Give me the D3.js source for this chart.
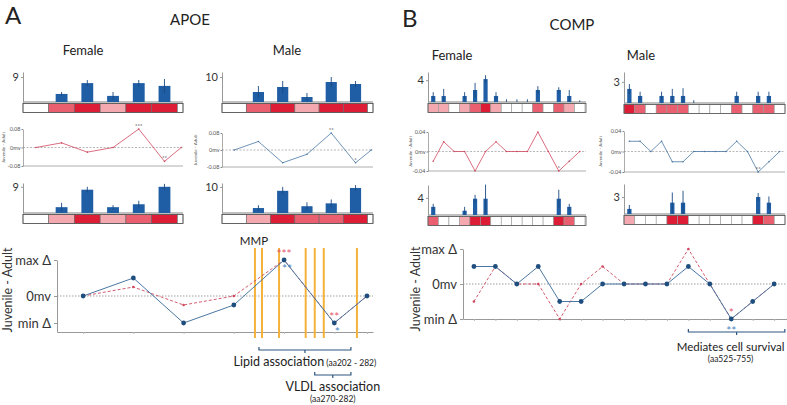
<!DOCTYPE html>
<html>
<head>
<meta charset="utf-8">
<script src="https://cdn.jsdelivr.net/npm/d3@7"></script>
<style>
  body { margin: 0; background: #fff; }
  svg { display: block; font-family: Lato, "Open Sans", sans-serif; }
</style>
</head>
<body>
<svg id="chart" width="787" height="405"></svg>
<script>
// ---------- APOE (7 segments, the last one is a short tail) ----------
const apoePos = [0, 1, 2, 3, 4, 5, 5.65];
const apoeFemTop = [0, 2.9, 6.8, 2.2, 6.8, 5.8, 0];
const apoeFemTopErr = [0, 0.7, 1.1, 1.4, 1.1, 2.5, 0];
const apoeFemTopHeat = [0, 2, 3, 1, 3, 3, 0];
const apoeFemBot = [0, 2, 8, 2, 3, 9, 0];
const apoeFemBotErr = [0, 1.5, 1, 0.7, 1.2, 1, 0];
const apoeFemBotHeat = [0, 1, 3, 1, 2, 3, 0];
const apoeMaleTop = [0, 4, 6, 2, 8, 7.2, 0];
const apoeMaleTopErr = [0, 2.4, 2.4, 1.6, 2, 1.2, 0];
const apoeMaleTopHeat = [0, 2, 3, 1, 3, 3, 0];
const apoeMaleBot = [0, 1.9, 8.5, 2.6, 3.7, 9.6, 0];
const apoeMaleBotErr = [0, 1.1, 1.5, 1.5, 1.5, 1.1, 0];
const apoeMaleBotHeat = [0, 1, 3, 2, 2, 3, 0];
const apoeFemDiff = [0, 0.02, -0.02, 0, 0.08, -0.06, 0];
const apoeMaleDiff = [0, 0.04, -0.06, -0.02, 0.08, -0.06, 0];
const apoeFemStars = ['', '', '', '', '***', '**', ''];
const apoeMaleStars = ['', '', '', '', '**', '*', ''];
const mmpSites = [3.42, 3.56, 3.9, 4.43, 4.61, 4.79, 5.45];

// ---------- COMP (15 segments) ----------
const compPos = d3.range(15);
const compFemTop = [1.1, 1.1, 0, 1.1, 2.2, 4.2, 1.1, 0, 0, 0, 2.2, 0, 2.2, 1.1, 0];
const compFemTopErr = [0.7, 1.3, 0, 0.7, 1.3, 0.7, 0.7, 0.5, 0.5, 0.5, 0.7, 0, 0.5, 1.1, 0.3];
const compFemTopHeat = [1, 1, 0, 1, 2, 3, 1, 0, 0, 0, 2, 0, 2, 1, 0];
const compFemBot = [1.9, 0, 0, 1, 3.8, 3.8, 0, 0, 0, 0, 0, 0, 3.8, 1.9, 0];
const compFemBotErr = [0.7, 0, 0, 0.9, 0.9, 3.3, 0, 0, 0, 0, 0, 0, 2.1, 0.7, 0];
const compFemBotHeat = [2, 0, 0, 1, 3, 3, 0, 0, 0, 0, 0, 0, 3, 2, 0];
const compMaleTop = [2, 1, 0, 1, 1, 1, 0, 0, 0, 0, 1, 0, 1, 1, 0];
const compMaleTopErr = [0.7, 0.6, 0, 0.6, 1, 1.1, 0.4, 0, 0, 0, 0.6, 0, 0.6, 0.6, 0];
const compMaleTopHeat = [3, 2, 0, 2, 2, 2, 0, 0, 0, 0, 2, 0, 2, 2, 0];
const compMaleBot = [0.9, 0, 0, 0, 2, 2, 0, 0, 0, 0, 0, 0, 3, 2, 0];
const compMaleBotErr = [0.7, 0, 0, 0, 1.8, 2.1, 0, 0, 0, 0, 0, 0, 0.7, 1.1, 0];
const compMaleBotHeat = [1, 0, 0, 0, 3, 3, 0, 0, 0, 0, 0, 0, 3, 2, 0];
const compFemDiff = [-0.02, 0.02, 0, 0, -0.04, 0, 0.02, 0, 0, 0, 0.04, 0, -0.04, -0.02, 0];
const compMaleDiff = [0.02, 0.02, 0, 0.02, -0.02, -0.02, 0, 0, 0, 0, 0.02, 0, -0.04, -0.02, 0];
const compFemStars = ['', '', '', '', '', '', '', '', '', '', '', '', '*', '', ''];
const compMaleStars = ['', '', '', '', '', '', '', '', '', '', '', '', '**', '', ''];

const svg = d3.select('#chart');
const heat = ['#ffffff', '#f4a8b0', '#ea5f6f', '#dd1c35'];
const barBlue = '#1f5da4';
const redLine = '#d0485f';
const blueLine = '#4a77a3';

function cellEdges(pos, i, xmax) {
    const lo = i > 0 ? Math.max(pos[i] - 0.5, pos[i - 1] + 0.5) : pos[i] - 0.5;
    const hi = Math.min(pos[i] + 0.5, xmax);
    return [lo, hi];
}

function barPanel(p) {
    const g = svg.append('g');
    const x = d3.scaleLinear().domain(p.xdom).range([p.x0, p.x1]);
    const y = d3.scaleLinear().domain([0, p.ymax]).range([p.base, p.top]);
    const bw = (x(1) - x(0)) * p.bw;
    const rows = p.pos.map((d, i) => ({ pos: d, v: p.vals[i], e: p.errs[i], h: p.heat[i], i: i }));

    g.selectAll('rect.cell').data(rows).join('rect')
        .attr('class', 'cell')
        .attr('x', d => x(cellEdges(p.pos, d.i, p.xdom[1])[0]))
        .attr('width', d => {
            const [lo, hi] = cellEdges(p.pos, d.i, p.xdom[1]);
            return x(hi) - x(lo);
        })
        .attr('y', p.base + 1.5)
        .attr('height', p.stripH)
        .attr('fill', d => heat[d.h])
        .attr('stroke', p.cellStroke)
        .attr('stroke-width', 0.6);
    g.append('rect')
        .attr('x', p.x0).attr('y', p.base + 1.5)
        .attr('width', p.x1 - p.x0).attr('height', p.stripH)
        .attr('fill', 'none').attr('stroke', '#555').attr('stroke-width', 0.8);

    g.append('line')
        .attr('x1', p.x0).attr('x2', p.x1)
        .attr('y1', p.base).attr('y2', p.base)
        .attr('stroke', '#aaa').attr('stroke-width', 1.5);

    g.selectAll('rect.bar').data(rows.filter(d => d.v > 0)).join('rect')
        .attr('class', 'bar')
        .attr('x', d => x(d.pos) - bw / 2)
        .attr('y', d => y(d.v))
        .attr('width', bw)
        .attr('height', d => y(0) - y(d.v))
        .attr('fill', barBlue);

    g.selectAll('line.err').data(rows.filter(d => d.e > 0)).join('line')
        .attr('class', 'err')
        .attr('x1', d => x(d.pos)).attr('x2', d => x(d.pos))
        .attr('y1', d => y(Math.max(0, d.v - d.e)))
        .attr('y2', d => y(d.v + d.e))
        .attr('stroke', '#1b4a82').attr('stroke-width', 0.9);

    const ax = g.append('g')
        .attr('transform', `translate(${p.x0},0)`)
        .call(d3.axisLeft(y).tickValues([p.tick]).tickSize(2).tickSizeOuter(0).tickPadding(2)
            .tickFormat(d3.format('d')));
    ax.attr('font-family', null).attr('font-size', p.fs);
    ax.select('.domain').attr('stroke', '#999');
    ax.selectAll('.tick line').attr('stroke', '#999');
    ax.selectAll('.tick text').attr('fill', '#333');
}

function diffPanel(p) {
    const g = svg.append('g');
    const x = d3.scaleLinear().domain(p.xdom).range([p.x0, p.x1]);
    const y = d3.scaleLinear().domain([-p.m, p.m]).range([p.bot, p.top]);
    const pts = p.pos.map((d, i) => ({ pos: d, v: p.vals[i], s: p.stars[i] }));

    g.append('line')
        .attr('x1', p.x0).attr('x2', p.x1)
        .attr('y1', y(0)).attr('y2', y(0))
        .attr('stroke', '#888').attr('stroke-width', 0.6).attr('stroke-dasharray', '2,1.5');
    g.append('line')
        .attr('x1', p.x0).attr('x2', p.x1)
        .attr('y1', y(-p.m)).attr('y2', y(-p.m))
        .attr('stroke', '#999').attr('stroke-width', 0.8);

    const ax = g.append('g')
        .attr('transform', `translate(${p.x0},0)`)
        .call(d3.axisLeft(y).tickValues([p.m, 0, -p.m]).tickSize(1.5).tickSizeOuter(0).tickPadding(1)
            .tickFormat(d => d === 0 ? '0mv' : d.toFixed(2)));
    ax.attr('font-family', null).attr('font-size', 5.5);
    ax.select('.domain').attr('stroke', '#888').attr('stroke-width', 0.7);
    ax.selectAll('.tick line').attr('stroke', '#888');
    ax.selectAll('.tick text').attr('fill', '#555');

    g.append('path')
        .datum(pts)
        .attr('d', d3.line().x(d => x(d.pos)).y(d => y(d.v)))
        .attr('fill', 'none').attr('stroke', p.color).attr('stroke-width', 0.8);
    g.selectAll('circle').data(pts).join('circle')
        .attr('cx', d => x(d.pos)).attr('cy', d => y(d.v))
        .attr('r', 0.8).attr('fill', p.color);
    g.selectAll('text.star').data(pts.filter(d => d.s)).join('text')
        .attr('class', 'star')
        .attr('x', d => x(d.pos)).attr('y', d => y(d.v) - 1)
        .attr('text-anchor', 'middle').attr('font-size', 6).attr('fill', '#333')
        .text(d => d.s);

    g.append('text')
        .attr('transform', `translate(${p.labelX},${y(0)}) rotate(-90)`)
        .attr('text-anchor', 'middle').attr('font-size', 4.6).attr('fill', '#555')
        .text('Juvenile - Adult');
}

function summaryPanel(p) {
    const g = svg.append('g');
    const x = d3.scaleLinear().domain(p.xdom).range([p.x0, p.x1]);
    const y = d3.scaleLinear().domain([-1, 1]).range([p.bot, p.top]);
    const red = p.pos.map((d, i) => ({ pos: d, v: p.fem[i] / p.scale, s: p.femStars[i] }));
    const blue = p.pos.map((d, i) => ({ pos: d, v: p.male[i] / p.scale, s: p.maleStars[i] }));

    g.append('line')
        .attr('x1', p.x0).attr('x2', p.x1)
        .attr('y1', y(0)).attr('y2', y(0))
        .attr('stroke', '#777').attr('stroke-width', 0.7).attr('stroke-dasharray', '1.5,1.5');

    const xa = g.append('g')
        .attr('transform', `translate(0,${p.bot})`)
        .call(d3.axisBottom(x).tickValues(p.pos).tickSize(2).tickSizeOuter(0).tickFormat(''));
    xa.select('.domain').attr('stroke', '#999');
    xa.selectAll('.tick line').attr('stroke', '#bbb');

    const ya = g.append('g')
        .attr('transform', `translate(${p.x0},0)`)
        .call(d3.axisLeft(y).tickValues(p.ticks).tickSize(3).tickSizeOuter(0).tickPadding(3)
            .tickFormat((d, i) => p.tickLabels[i]));
    ya.attr('font-family', null).attr('font-size', 13);
    ya.select('.domain').attr('stroke', '#999');
    ya.selectAll('.tick line').attr('stroke', '#999');
    ya.selectAll('.tick text').attr('fill', '#333');

    if (p.sites) {
        g.selectAll('line.site').data(p.sites).join('line')
            .attr('class', 'site')
            .attr('x1', d => x(d)).attr('x2', d => x(d))
            .attr('y1', p.siteTop).attr('y2', p.siteBot)
            .attr('stroke', '#f4b23a').attr('stroke-width', 2);
    }

    const line = d3.line().x(d => x(d.pos)).y(d => y(d.v));
    g.append('path').datum(red).attr('d', line)
        .attr('fill', 'none').attr('stroke', redLine).attr('stroke-width', 0.9)
        .attr('stroke-dasharray', '3,2');
    g.selectAll('circle.r').data(red).join('circle')
        .attr('class', 'r')
        .attr('cx', d => x(d.pos)).attr('cy', d => y(d.v)).attr('r', 1.3).attr('fill', redLine);
    g.append('path').datum(blue).attr('d', line)
        .attr('fill', 'none').attr('stroke', blueLine).attr('stroke-width', 1);
    g.selectAll('circle.b').data(blue).join('circle')
        .attr('class', 'b')
        .attr('cx', d => x(d.pos)).attr('cy', d => y(d.v)).attr('r', 2.4).attr('fill', '#1f4e7e');

    g.selectAll('text.rs').data(red.filter(d => d.s)).join('text')
        .attr('class', 'rs')
        .attr('x', d => x(d.pos)).attr('y', d => y(d.v) - 2)
        .attr('text-anchor', 'middle').attr('font-size', 12).attr('fill', '#e8576f')
        .text(d => d.s);
    g.selectAll('text.bs').data(blue.filter(d => d.s)).join('text')
        .attr('class', 'bs')
        .attr('x', d => x(d.pos) + p.blueStarDx).attr('y', d => y(d.v) + p.blueStarDy)
        .attr('text-anchor', 'middle').attr('font-size', 12).attr('fill', '#4a86c0')
        .text(d => d.s);

    g.append('text')
        .attr('transform', `translate(${p.labelX},${p.labelY}) rotate(-90)`)
        .attr('text-anchor', 'middle').attr('font-size', 12.5).attr('fill', '#333')
        .text('Juvenile - Adult');

    p.brackets.forEach(b => {
        const x1 = x(b.from), x2 = x(b.to), xm = (x1 + x2) / 2;
        g.append('path')
            .attr('d', `M${x1},${b.y - 3}V${b.y}H${x2}V${b.y - 3}M${xm},${b.y}V${b.y + 3}`)
            .attr('fill', 'none').attr('stroke', '#2d5680').attr('stroke-width', 1.2);
        const t = g.append('text')
            .attr('x', xm + (b.dx || 0)).attr('y', b.y + b.ty)
            .attr('text-anchor', 'middle').attr('font-size', b.fs || 12.5).attr('fill', '#222');
        t.append('tspan').text(b.label);
        if (b.inline) t.append('tspan').attr('font-size', 8.5).text(' ' + b.inline);
        if (b.sub) {
            g.append('text')
                .attr('x', xm + (b.dx || 0)).attr('y', b.y + b.ty + 11)
                .attr('text-anchor', 'middle').attr('font-size', 8.5).attr('fill', '#222')
                .text(b.sub);
        }
    });
}

// ---------- titles ----------
function label(txt, x, y, size, anchor) {
    svg.append('text').attr('x', x).attr('y', y)
        .attr('text-anchor', anchor || 'middle')
        .attr('font-size', size).attr('fill', '#222').text(txt);
}
label('A', 5, 24, 24, 'start');
label('APOE', 190, 25, 15);
label('Female', 83, 55, 13);
label('Male', 287, 55, 13);
label('B', 402, 27, 24, 'start');
label('COMP', 572, 30, 15);
label('Female', 452, 60, 13);
label('Male', 641, 60, 13);
label('MMP', 254, 245, 11.5);

// ---------- APOE panels ----------
const aF = { x0: 23, x1: 183, xdom: [-0.5, 5.72] };
const aM = { x0: 222, x1: 373, xdom: [-0.5, 5.72] };
barPanel({ ...aF, pos: apoePos, vals: apoeFemTop, errs: apoeFemTopErr, heat: apoeFemTopHeat,
    top: 72, base: 102, ymax: 10.8, tick: 9, stripH: 9, bw: 0.46, fs: 11, cellStroke: '#666' });
barPanel({ ...aF, pos: apoePos, vals: apoeFemBot, errs: apoeFemBotErr, heat: apoeFemBotHeat,
    top: 183, base: 213, ymax: 10.3, tick: 9, stripH: 9, bw: 0.46, fs: 11, cellStroke: '#666' });
barPanel({ ...aM, pos: apoePos, vals: apoeMaleTop, errs: apoeMaleTopErr, heat: apoeMaleTopHeat,
    top: 72, base: 102, ymax: 12, tick: 10, stripH: 9, bw: 0.46, fs: 11, cellStroke: '#666' });
barPanel({ ...aM, pos: apoePos, vals: apoeMaleBot, errs: apoeMaleBotErr, heat: apoeMaleBotHeat,
    top: 183, base: 213, ymax: 11.5, tick: 10, stripH: 9, bw: 0.46, fs: 11, cellStroke: '#666' });
diffPanel({ ...aF, pos: apoePos, vals: apoeFemDiff, stars: apoeFemStars, m: 0.08,
    top: 129, bot: 166, color: redLine, labelX: 5 });
diffPanel({ ...aM, pos: apoePos, vals: apoeMaleDiff, stars: apoeMaleStars, m: 0.08,
    top: 133, bot: 167, color: blueLine, labelX: 197 });

summaryPanel({ x0: 57, x1: 373, xdom: [-0.52, 5.77], top: 260, bot: 332,
    pos: apoePos, fem: apoeFemDiff, male: apoeMaleDiff, scale: 0.08,
    femStars: apoeFemStars, maleStars: apoeMaleStars,
    ticks: [1, 0, -0.75], tickLabels: ['max Δ', '0mv', 'min Δ'],
    sites: mmpSites, siteTop: 248, siteBot: 338,
    blueStarDx: 3, blueStarDy: 13, labelX: 12, labelY: 290,
    brackets: [
        { from: 3.5, to: 5.33, y: 350, ty: 16, label: 'Lipid association', inline: '(aa202 - 282)' },
        { from: 4.61, to: 5.33, y: 375, ty: 16, label: 'VLDL association', sub: '(aa270-282)' }
    ] });

// ---------- COMP panels ----------
const bF = { x0: 428, x1: 586, xdom: [-0.5, 14.6] };
const bM = { x0: 624, x1: 785, xdom: [-0.5, 14.5] };
barPanel({ ...bF, pos: compPos, vals: compFemTop, errs: compFemTopErr, heat: compFemTopHeat,
    top: 72, base: 102, ymax: 5.5, tick: 4, stripH: 9, bw: 0.4, fs: 11, cellStroke: '#999' });
barPanel({ ...bF, pos: compPos, vals: compFemBot, errs: compFemBotErr, heat: compFemBotHeat,
    top: 185, base: 215, ymax: 7, tick: 4, stripH: 9, bw: 0.4, fs: 11, cellStroke: '#999' });
barPanel({ ...bM, pos: compPos, vals: compMaleTop, errs: compMaleTopErr, heat: compMaleTopHeat,
    top: 72, base: 103, ymax: 4.4, tick: 3, stripH: 9, bw: 0.4, fs: 11, cellStroke: '#999' });
barPanel({ ...bM, pos: compPos, vals: compMaleBot, errs: compMaleBotErr, heat: compMaleBotHeat,
    top: 184, base: 214, ymax: 5.3, tick: 3, stripH: 9, bw: 0.4, fs: 11, cellStroke: '#999' });
diffPanel({ ...bF, pos: compPos, vals: compFemDiff, stars: compFemStars, m: 0.04,
    top: 132, bot: 171, color: redLine, labelX: 412 });
diffPanel({ ...bM, pos: compPos, vals: compMaleDiff, stars: compMaleStars, m: 0.04,
    top: 131, bot: 172, color: blueLine, labelX: 602 });

summaryPanel({ x0: 463, x1: 787, xdom: [-0.51, 14.6], top: 249, bot: 319,
    pos: compPos, fem: compFemDiff, male: compMaleDiff, scale: 0.04,
    femStars: compFemStars, maleStars: compMaleStars,
    ticks: [1, 0, -1], tickLabels: ['max Δ', '0mv', 'min Δ'],
    blueStarDx: 0, blueStarDy: 16, labelX: 420, labelY: 289,
    brackets: [
        { from: 10, to: 14.5, y: 332, ty: 19, dx: -6, fs: 11.5, label: 'Mediates cell survival', sub: '(aa525-755)' }
    ] });
</script>
</body>
</html>
